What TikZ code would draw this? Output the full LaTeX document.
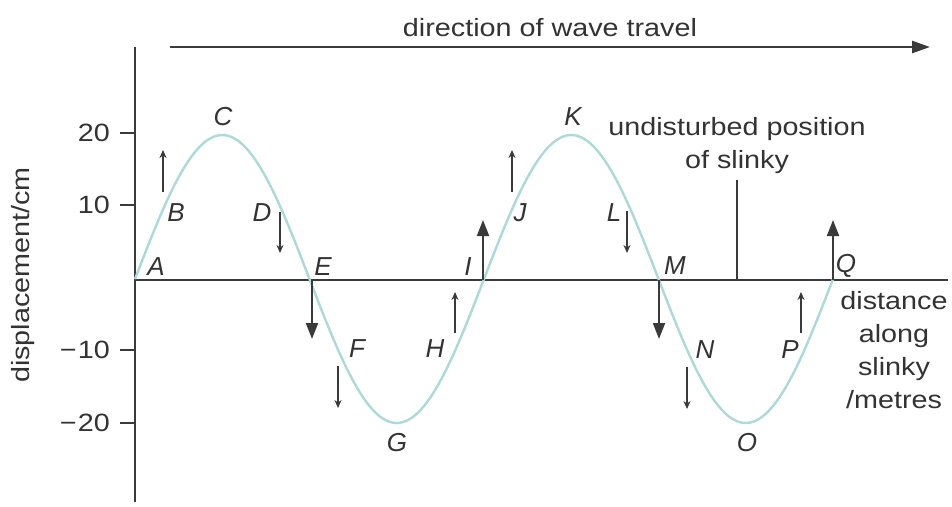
\documentclass[tikz,border=0pt]{standalone}
\usepackage{fontspec}
\setmainfont{Liberation Sans}
\usetikzlibrary{arrows.meta}
\definecolor{axisc}{HTML}{3A3A3A}
\definecolor{wavec}{HTML}{ADD9D8}
\definecolor{txtc}{HTML}{333333}
\newcommand{\sx}[1]{\scalebox{1.15}[1]{#1}}
\tikzset{
  axis/.style={draw=axisc, line width=2.6pt},
  wave/.style={draw=wavec, line width=2.4pt},
  lbl/.style={text=txtc, font=\fontsize{25}{33}\selectfont, inner sep=0pt},
  pt/.style={text=txtc, font=\fontsize{26}{30}\selectfont\itshape, inner sep=0pt},
  smallarr/.style={draw=axisc, line width=1.6pt, -{Stealth[length=8pt,width=7pt]}},
  bigarr/.style={draw=axisc, line width=2pt, -{Triangle[length=16pt,width=12pt]}},
  topdir/.style={draw=axisc, line width=2.6pt, -{Triangle[length=18pt,width=12pt]}},
  tick/.style={draw=axisc, line width=2pt}
}
\begin{document}
\begin{tikzpicture}[x=1pt, y=-1pt]
\useasboundingbox[fill=white] (0,0) rectangle (952,506);
% axes
\coordinate (ytop) at (135,47);
\coordinate (ybot) at (135,502);
\coordinate (xl) at (135,280);
\coordinate (xr) at (948,280);
\draw[axis] (ytop) -- (ybot);
\draw[axis] (xl) -- (xr);
% ticks
\foreach \v/\yy/\nm in {20/133/t1, 10/205/t2, {−\kern1pt10}/350/t3, {−\kern1pt20}/423/t4}{
  \coordinate (\nm a) at (120,\yy);
  \coordinate (\nm b) at (135,\yy);
  \draw[tick] (\nm a) -- (\nm b);
  \node[lbl, anchor=east] (\nm l) at (110,\yy) {\sx{\v}};
}
% axis labels
\node[lbl, rotate=90] (ylab) at (23,275) {\sx{displacement/cm}};
\node[lbl] (xlab) at (894,352) {\sx{\begin{tabular}{@{}c@{}}distance\\along\\slinky\\/metres\end{tabular}}};
% direction arrow
\node[lbl] (dir) at (550,28) {\sx{direction of wave travel}};
\coordinate (ds) at (170,47);
\coordinate (de) at (930,47);
\draw[topdir] (ds) -- (de);
% undisturbed
\node[lbl] (und) at (737,145) {\sx{\begin{tabular}{@{}c@{}}undisturbed position\\of slinky\end{tabular}}};
\coordinate (ua) at (737,180);
\coordinate (ub) at (737,280);
\draw[axis, line width=2pt] (ua) -- (ub);
% wave
\draw[wave] plot[domain=0:698, samples=240] ({135+\x},{279-144*sin(\x/349*360)});
% point labels
\node[pt] (A) at (156,267) {A};
\node[pt] (B) at (176,213) {B};
\node[pt] (C) at (223,117) {C};
\node[pt] (D) at (262,213) {D};
\node[pt] (E) at (323,267) {E};
\node[pt] (F) at (357,349) {F};
\node[pt] (G) at (397,443) {G};
\node[pt] (H) at (435,349) {H};
\node[pt] (I) at (468,267) {I};
\node[pt] (J) at (520,213) {J};
\node[pt] (K) at (573,117) {K};
\node[pt] (L) at (614,213) {L};
\node[pt] (M) at (675,266) {M};
\node[pt] (N) at (705,350) {N};
\node[pt] (O) at (747,443) {O};
\node[pt] (P) at (790,350) {P};
\node[pt] (Q) at (846,266) {Q};
% small arrows
\foreach \nm/\xx/\ya/\yb in {b/163/192/150, d/280/212/253, f/338/366/408, h/455/333/292, j/512/192/150, l/627/211/253, n/687/367/409, p/801/333/292}{
  \coordinate (\nm s) at (\xx,\ya);
  \coordinate (\nm e) at (\xx,\yb);
  \draw[smallarr] (\nm s) -- (\nm e);
}
% big arrows
\foreach \nm/\xx/\ya/\yb in {e/312/280/339, i/483/280/220, m/659/280/339, q/833/280/220}{
  \coordinate (\nm s) at (\xx,\ya);
  \coordinate (\nm e) at (\xx,\yb);
  \draw[bigarr] (\nm s) -- (\nm e);
}
\end{tikzpicture}
\end{document}
